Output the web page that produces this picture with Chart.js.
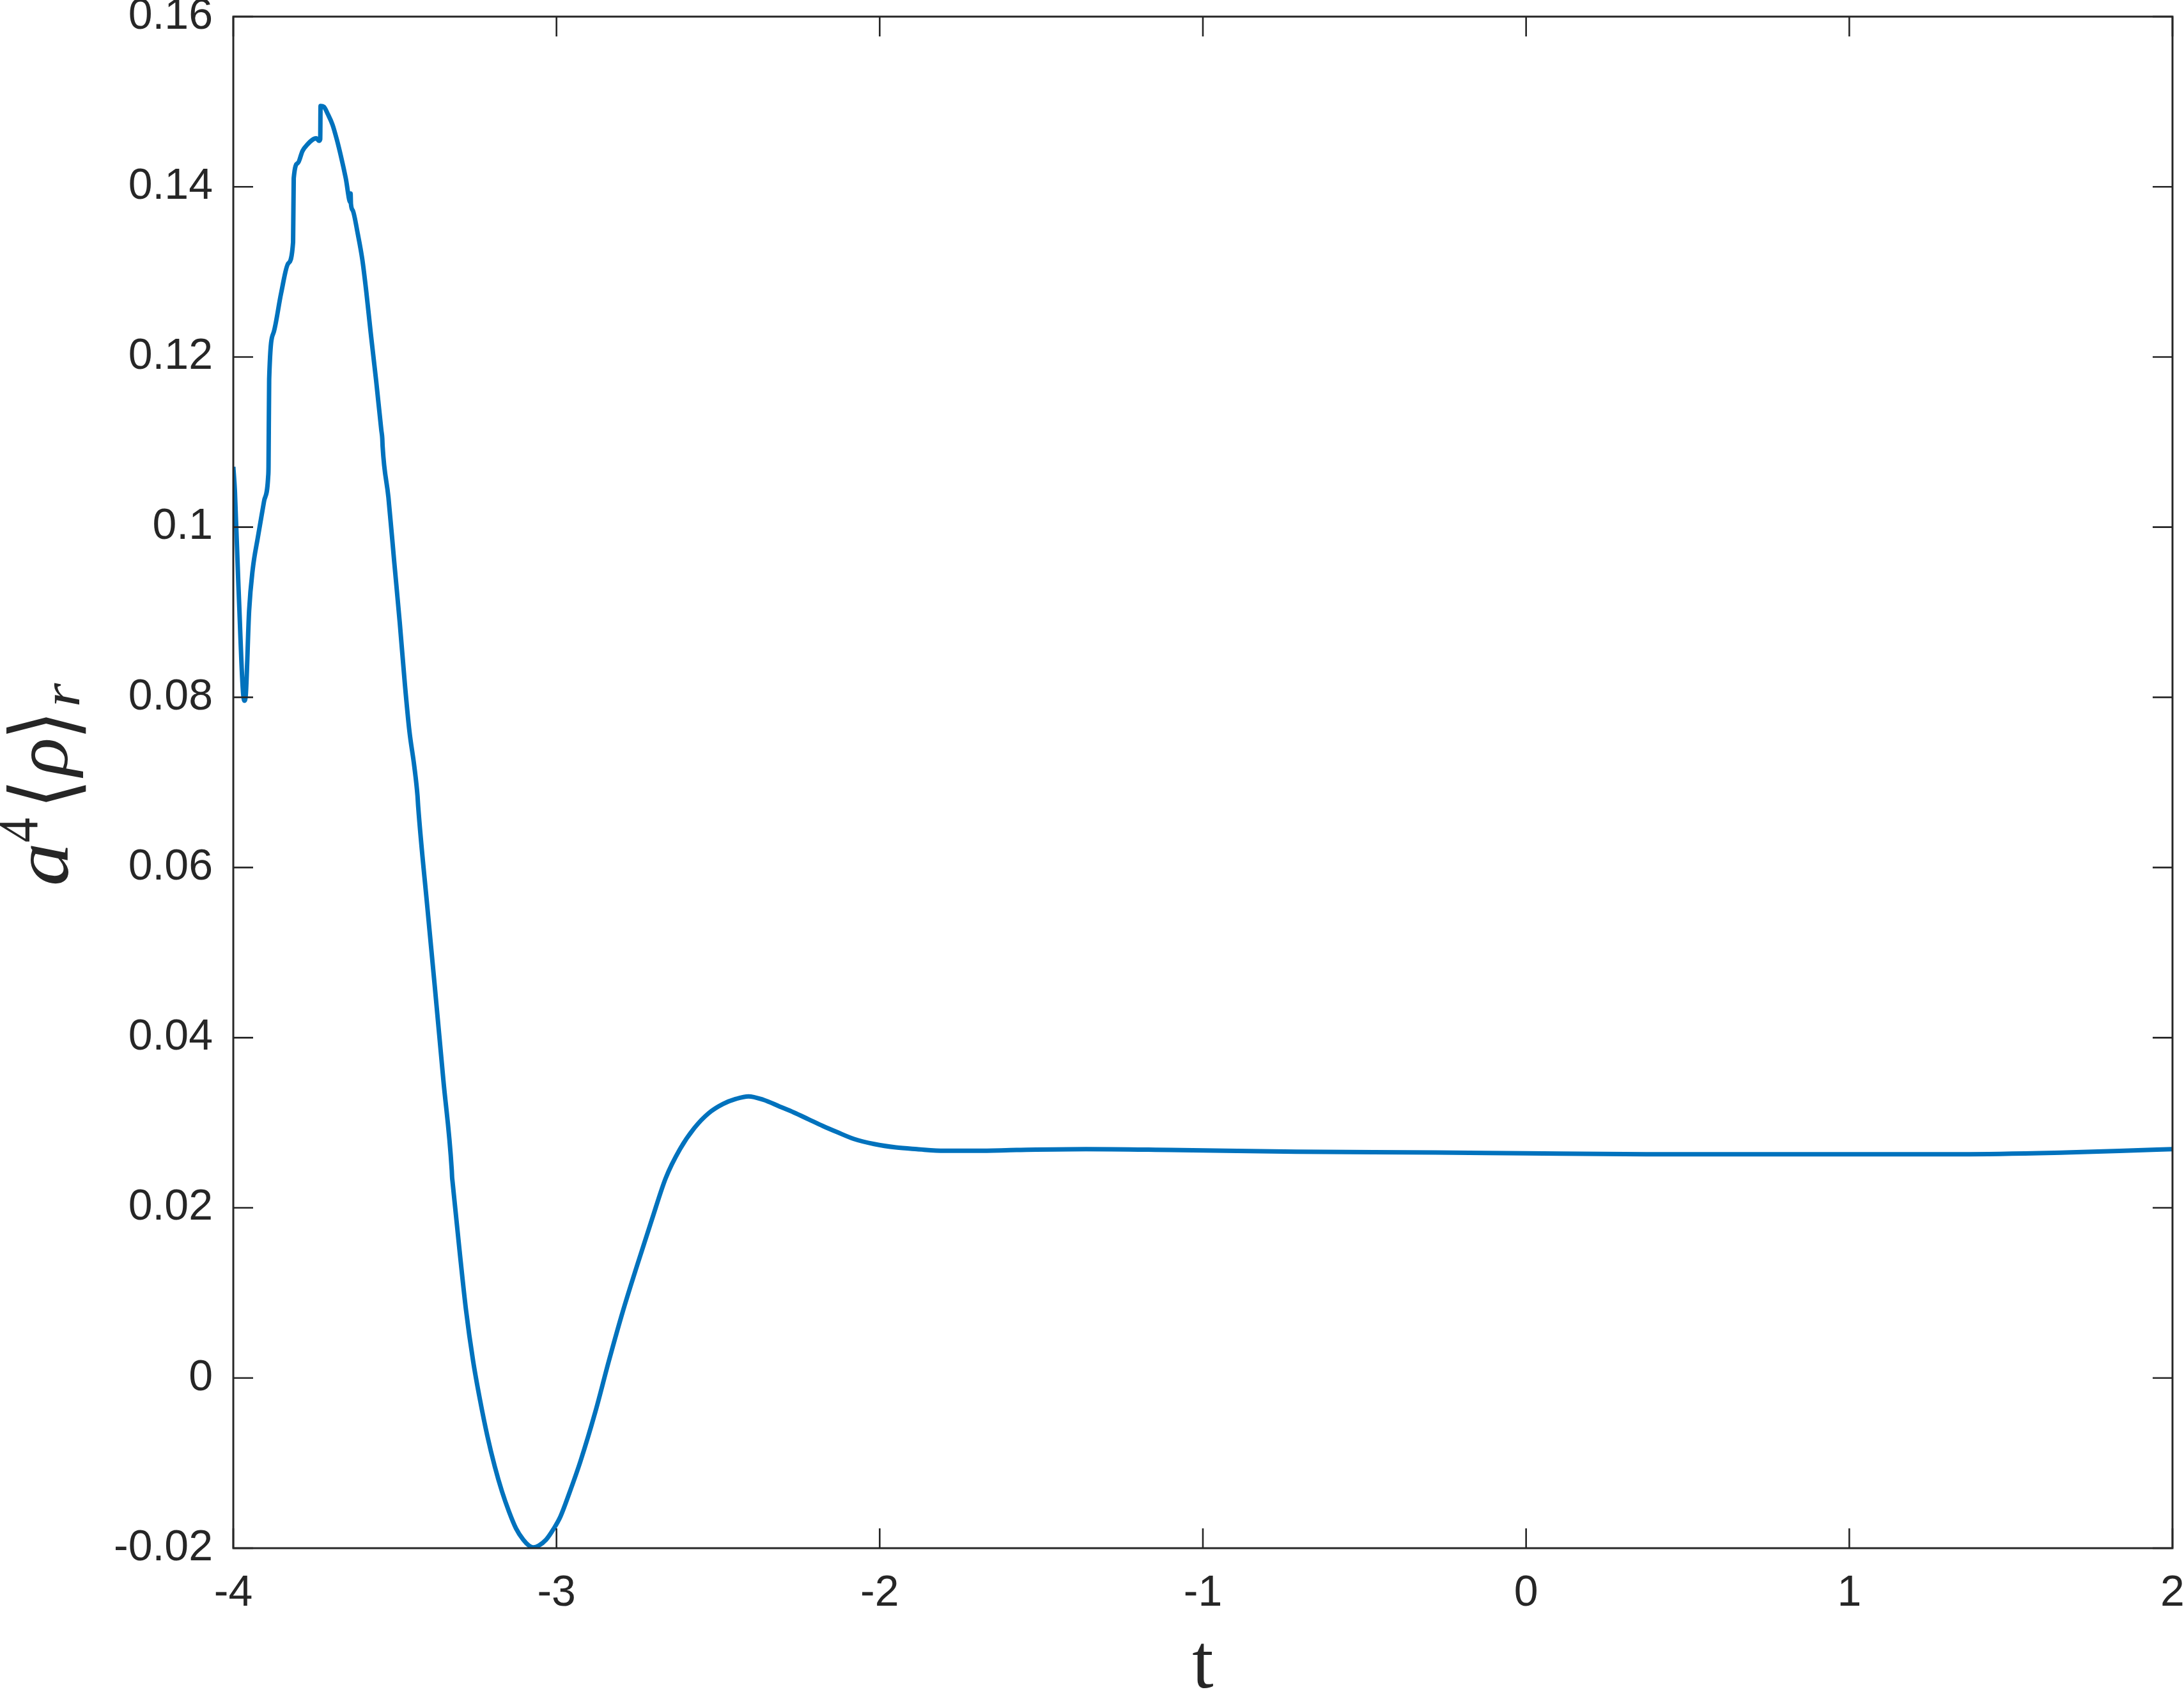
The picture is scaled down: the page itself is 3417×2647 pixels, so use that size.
<!DOCTYPE html>
<html>
<head>
<meta charset="utf-8">
<script src="https://cdn.jsdelivr.net/npm/chart.js@4.4.0/dist/chart.umd.min.js"></script>
<style>
html,body{margin:0;padding:0;background:#ffffff;}
#wrap{width:3417px;height:2647px;position:relative;}
</style>
</head>
<body>
<div id="wrap"><canvas id="c" width="3417" height="2647"></canvas></div>
<script>
// ---- data ----
const tValues = [
  -4.000, -3.995, -3.984, -3.966, -3.962, -3.951, -3.940, -3.924, -3.905, -3.892,
  -3.891, -3.889, -3.875, -3.852, -3.830, -3.815, -3.813, -3.800, -3.786, -3.770,
  -3.756, -3.743, -3.735, -3.731, -3.730, -3.720, -3.707, -3.693, -3.680, -3.667,
  -3.652, -3.638, -3.637, -3.636, -3.630, -3.615, -3.601, -3.588, -3.575, -3.558,
  -3.542, -3.539, -3.538, -3.520, -3.502, -3.485, -3.469, -3.455, -3.440, -3.430,
  -3.429, -3.428, -3.400, -3.377, -3.350, -3.324, -3.323, -3.322, -3.300, -3.280,
  -3.258, -3.236, -3.214, -3.191, -3.169, -3.147, -3.125, -3.103, -3.085, -3.072,
  -3.055, -3.032, -3.010, -2.988, -2.960, -2.926, -2.880, -2.838, -2.795, -2.750,
  -2.705, -2.662, -2.618, -2.573, -2.530, -2.485, -2.445, -2.406, -2.360, -2.309,
  -2.265, -2.220, -2.175, -2.132, -2.080, -2.017, -1.950, -1.885, -1.800, -1.700,
  -1.576, -1.362, -1.100, -0.712, -0.279, 0.000, 0.371, 0.804, 1.346, 1.670,
  1.850, 2.000
];
const rhoValues = [
  0.1071, 0.1042, 0.0930, 0.0796, 0.0800, 0.0902, 0.0950, 0.0988, 0.1030, 0.1060,
  0.1071, 0.1174, 0.1229, 0.1275, 0.1310, 0.1335, 0.1410, 0.1428, 0.1442, 0.1450,
  0.1455, 0.1457, 0.1454, 0.1456, 0.1495, 0.1494, 0.1485, 0.1473, 0.1456, 0.1436,
  0.1410, 0.1382, 0.1392, 0.1380, 0.1372, 0.1345, 0.1315, 0.1275, 0.1229, 0.1172,
  0.1114, 0.1104, 0.1095, 0.1035, 0.0959, 0.0888, 0.0815, 0.0760, 0.0719, 0.0684,
  0.0678, 0.0672, 0.0555, 0.0462, 0.0350, 0.0244, 0.0236, 0.0232, 0.0150, 0.0080,
  0.0020, -0.0027, -0.0068, -0.0104, -0.0133, -0.0157, -0.0177, -0.0190, -0.0197, -0.0199,
  -0.0197, -0.0190, -0.0178, -0.0163, -0.0135, -0.0098, -0.0040, 0.0020, 0.0078, 0.0133,
  0.0186, 0.0235, 0.0269, 0.0294, 0.0311, 0.0322, 0.0328, 0.0331, 0.0327, 0.0319,
  0.0312, 0.0304, 0.0296, 0.0289, 0.0281, 0.0275, 0.0271, 0.0269, 0.0267, 0.0267,
  0.0268, 0.0269, 0.0268, 0.0266, 0.0265, 0.0264, 0.0263, 0.0263, 0.0263, 0.0265,
  0.0267, 0.0269
];
const xTickValues = [-4, -3, -2, -1, 0, 1, 2];
const xTickLabels = ['-4', '-3', '-2', '-1', '0', '1', '2'];
const yTickValues = [-0.02, 0, 0.02, 0.04, 0.06, 0.08, 0.10, 0.12, 0.14, 0.16];
const yTickLabels = ['-0.02', '0', '0.02', '0.04', '0.06', '0.08', '0.1', '0.12', '0.14', '0.16'];
const xAxisTitle = 't';

// ---- styling ----
const AXIS_COLOR = '#262626';
const LINE_COLOR = '#0072BD';
const TICK_LEN = 31;

// draw a glyph so its ink box fills [l,r] x [t,b]
function fitText(ctx, txt, font, l, r, t, b) {
  ctx.font = font;
  const m = ctx.measureText(txt);
  const w = m.actualBoundingBoxLeft + m.actualBoundingBoxRight;
  const h = m.actualBoundingBoxAscent + m.actualBoundingBoxDescent;
  if (!(w > 0 && h > 0)) return;
  ctx.save();
  ctx.translate(l, t);
  ctx.scale((r - l) / w, (b - t) / h);
  ctx.fillText(txt, m.actualBoundingBoxLeft, m.actualBoundingBoxAscent);
  ctx.restore();
}

const boxPlugin = {
  id: 'matlabBox',
  afterDraw(chart) {
    const ctx = chart.ctx;
    const a = chart.chartArea;
    const xs = chart.scales.x, ys = chart.scales.y;
    ctx.save();
    ctx.strokeStyle = AXIS_COLOR;
    ctx.lineWidth = 3;
    ctx.beginPath();
    ctx.rect(a.left, a.top, a.right - a.left, a.bottom - a.top);
    ctx.stroke();
    ctx.lineWidth = 2.6;
    ctx.beginPath();
    xTickValues.forEach(v => {
      const px = xs.getPixelForValue(v);
      ctx.moveTo(px, a.bottom); ctx.lineTo(px, a.bottom - TICK_LEN);
      ctx.moveTo(px, a.top); ctx.lineTo(px, a.top + TICK_LEN);
    });
    yTickValues.forEach(v => {
      const py = ys.getPixelForValue(v);
      ctx.moveTo(a.left, py); ctx.lineTo(a.left + TICK_LEN, py);
      ctx.moveTo(a.right, py); ctx.lineTo(a.right - TICK_LEN, py);
    });
    ctx.stroke();

    // x axis title
    ctx.fillStyle = AXIS_COLOR;
    ctx.font = '120px "Liberation Serif"';
    ctx.textAlign = 'center';
    ctx.textBaseline = 'alphabetic';
    ctx.fillText(xAxisTitle, (a.left + a.right) / 2, 2640);

    // y axis title: a^4 <rho>_r (rotated, reads bottom to top)
    ctx.translate(107, 1383);
    ctx.rotate(-Math.PI / 2);
    ctx.textAlign = 'left';
    ctx.textBaseline = 'alphabetic';
    fitText(ctx, 'a', 'italic 125px "Liberation Serif"', 0, 60, -59, 0);
    fitText(ctx, '4', '88px "Liberation Serif"', 66, 103, -107, -48);
    fitText(ctx, '\u27E8', '125px "DejaVu Sans"', 128, 155, -97, 28);
    fitText(ctx, '\u03C1', 'italic 125px "Liberation Serif"', 165, 226, -58, 23);
    fitText(ctx, '\u27E9', '125px "DejaVu Sans"', 235, 261, -97, 28);
    fitText(ctx, 'r', 'italic 88px "Liberation Serif"', 280, 315, -22, 18);
    ctx.restore();
  }
};

function zeroPad(s) { s.paddingTop = 0; s.paddingBottom = 0; s.paddingLeft = 0; s.paddingRight = 0; }

new Chart(document.getElementById('c'), {
  type: 'scatter',
  data: {
    datasets: [{
      data: tValues.map((t, i) => ({ x: t, y: rhoValues[i] })),
      showLine: true,
      borderColor: LINE_COLOR,
      backgroundColor: LINE_COLOR,
      borderWidth: 7,
      pointRadius: 0,
      cubicInterpolationMode: 'monotone',
      fill: false
    }]
  },
  options: {
    responsive: false,
    animation: false,
    devicePixelRatio: 1,
    layout: { padding: { top: 26, right: 18, left: 0, bottom: 0 } },
    plugins: { legend: { display: false }, tooltip: { enabled: false } },
    scales: {
      x: {
        type: 'linear', min: -4, max: 2,
        grid: { display: false },
        border: { display: false },
        afterBuildTicks: s => { s.ticks = xTickValues.map(v => ({ value: v })); },
        afterFit: s => { s.height = 225; zeroPad(s); },
        ticks: {
          autoSkip: false, maxRotation: 0, padding: 22,
          color: AXIS_COLOR,
          font: { family: '"Liberation Sans", Arial, sans-serif', size: 68 },
          callback: (v, i) => xTickLabels[i]
        }
      },
      y: {
        type: 'linear', min: -0.02, max: 0.16,
        grid: { display: false },
        border: { display: false },
        afterBuildTicks: s => { s.ticks = yTickValues.map(v => ({ value: v })); },
        afterFit: s => { s.width = 365; zeroPad(s); },
        ticks: {
          autoSkip: false, padding: 24,
          color: AXIS_COLOR,
          font: { family: '"Liberation Sans", Arial, sans-serif', size: 68 },
          callback: (v, i) => yTickLabels[i]
        }
      }
    }
  },
  plugins: [boxPlugin]
});
</script>
</body>
</html>
